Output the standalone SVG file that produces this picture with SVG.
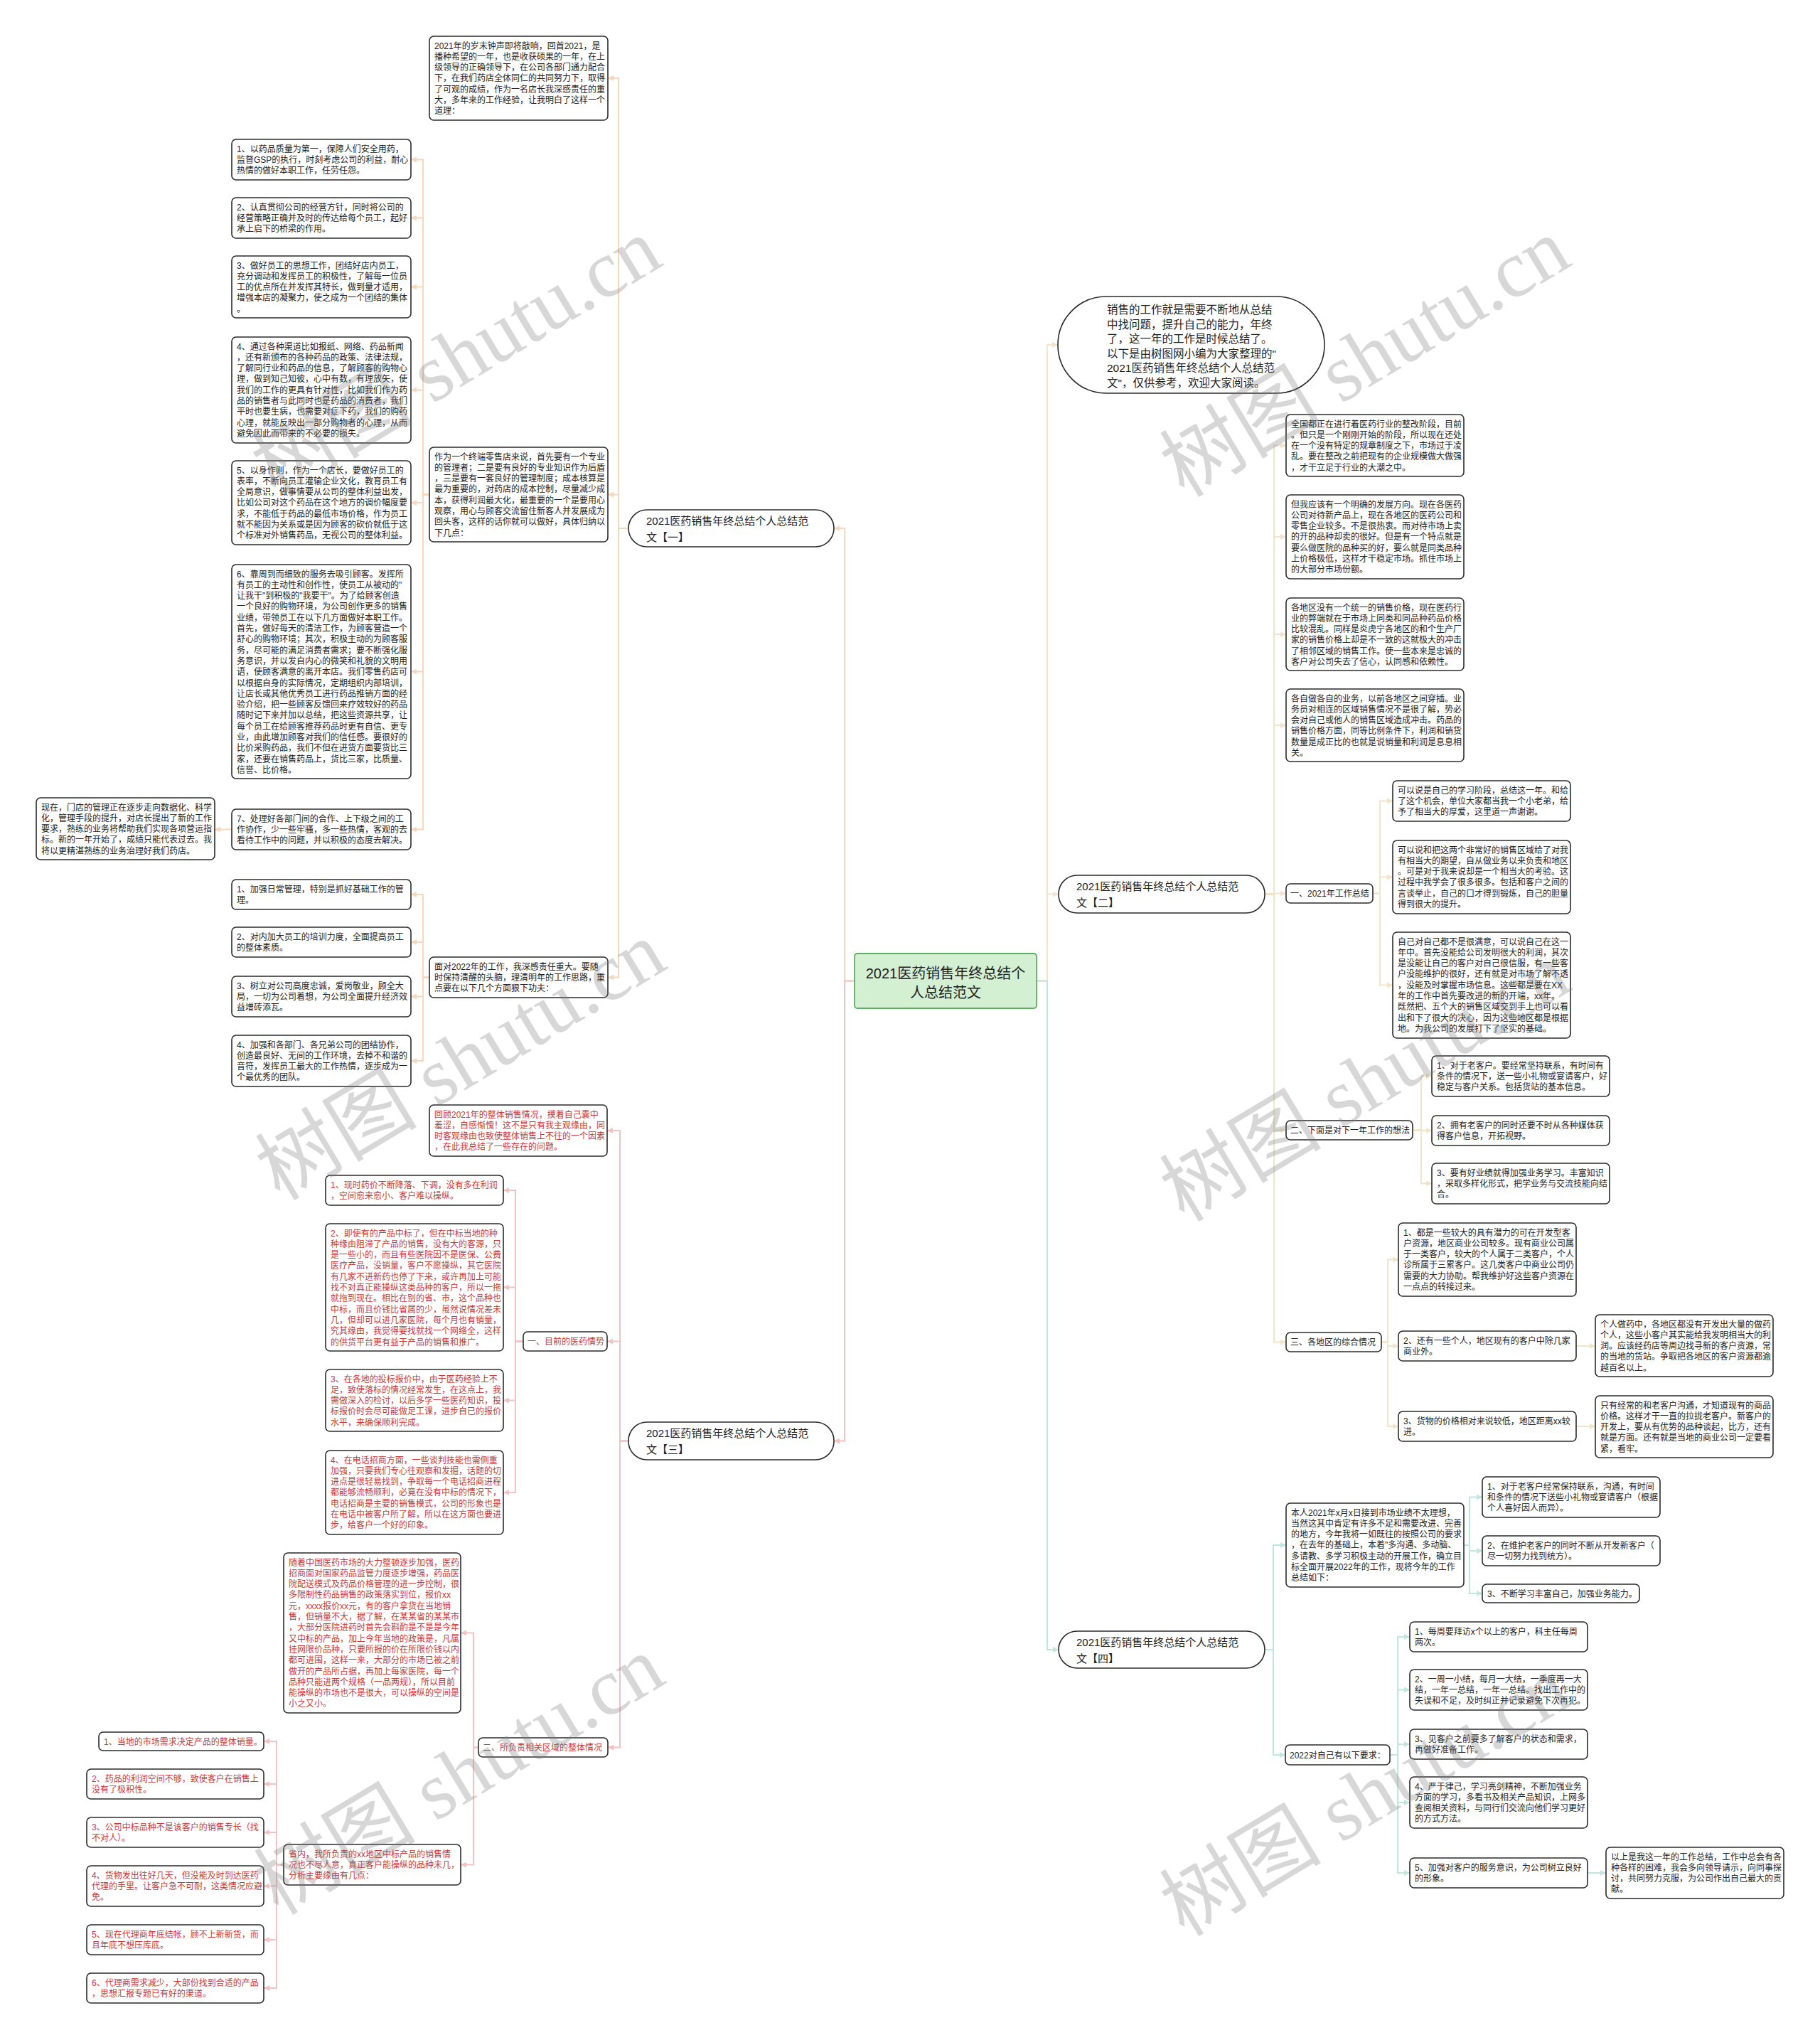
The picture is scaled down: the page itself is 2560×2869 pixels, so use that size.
<svg xmlns="http://www.w3.org/2000/svg" width="2560" height="2869" viewBox="0 0 2560 2869">
<defs>
<style>
.bg{fill:#ffffff}
.box{fill:#ffffff;stroke:#2b2b2b;stroke-width:1.6}
.t{font-family:"Liberation Sans","Noto Sans CJK SC",sans-serif;font-size:12px;fill:#222222}
.r{fill:#c8393b}
.bt{font-family:"Liberation Sans","Noto Sans CJK SC",sans-serif;font-size:15px;fill:#222222}
.ot{font-family:"Liberation Sans","Noto Sans CJK SC",sans-serif;font-size:15.5px;fill:#222222}
.root{fill:#d3f0d3;stroke:#5fae62;stroke-width:1.8}
.rt{font-family:"Liberation Sans","Noto Sans CJK SC",sans-serif;font-size:20px;fill:#222222}
.c{fill:none;stroke-width:2}
.co{stroke:#f7d8bc}
.cp{stroke:#f3c3c3}
.cb{stroke:#f1e4c9}
.cm{stroke:#bfe7dd}
.wm{font-family:"Liberation Serif","Noto Sans CJK SC",serif;font-size:114px;fill:#7a7a7a;fill-opacity:0.3}
</style>
<marker id="ao" markerUnits="userSpaceOnUse" markerWidth="9" markerHeight="8" refX="8" refY="4" orient="auto"><path d="M0,0 L8,4 L0,8 z" fill="#f7d8bc"/></marker>
<marker id="ap" markerUnits="userSpaceOnUse" markerWidth="9" markerHeight="8" refX="8" refY="4" orient="auto"><path d="M0,0 L8,4 L0,8 z" fill="#f3c3c3"/></marker>
<marker id="ab" markerUnits="userSpaceOnUse" markerWidth="9" markerHeight="8" refX="8" refY="4" orient="auto"><path d="M0,0 L8,4 L0,8 z" fill="#f1e4c9"/></marker>
<marker id="am" markerUnits="userSpaceOnUse" markerWidth="9" markerHeight="8" refX="8" refY="4" orient="auto"><path d="M0,0 L8,4 L0,8 z" fill="#bfe7dd"/></marker>
</defs>
<rect class="bg" x="0" y="0" width="2560" height="2869"/>

<g id="connectors">
<g class="c co">
<path d="M1202 1379.5 H1188 V743 H1173" marker-end="url(#ao)"/>
<path d="M884 743 H870 V110 H855" marker-end="url(#ao)"/>
<path d="M884 743 H870 V695.5 H855" marker-end="url(#ao)"/>
<path d="M884 743 H870 V1374.5 H855" marker-end="url(#ao)"/>
<path d="M604 695.5 H595 V224.5 H578" marker-end="url(#ao)"/>
<path d="M604 695.5 H595 V306.5 H578" marker-end="url(#ao)"/>
<path d="M604 695.5 H595 V403.5 H578" marker-end="url(#ao)"/>
<path d="M604 695.5 H595 V548.5 H578" marker-end="url(#ao)"/>
<path d="M604 695.5 H595 V707 H578" marker-end="url(#ao)"/>
<path d="M604 695.5 H595 V944.5 H578" marker-end="url(#ao)"/>
<path d="M604 695.5 H595 V1166.5 H578" marker-end="url(#ao)"/>
<path d="M326 1166.5 H302" marker-end="url(#ao)"/>
<path d="M604 1374.5 H595 V1258 H578" marker-end="url(#ao)"/>
<path d="M604 1374.5 H595 V1325 H578" marker-end="url(#ao)"/>
<path d="M604 1374.5 H595 V1401.5 H578" marker-end="url(#ao)"/>
<path d="M604 1374.5 H595 V1492 H578" marker-end="url(#ao)"/>
</g>
<g class="c cp">
<path d="M1202 1379.5 H1188 V2026.5 H1173" marker-end="url(#ap)"/>
<path d="M884 2026.5 H872 V1590 H854" marker-end="url(#ap)"/>
<path d="M884 2026.5 H872 V1886.5 H854" marker-end="url(#ap)"/>
<path d="M884 2026.5 H872 V2457.5 H855" marker-end="url(#ap)"/>
<path d="M736 1886.5 H725 V1674 H708" marker-end="url(#ap)"/>
<path d="M736 1886.5 H725 V1810.5 H708" marker-end="url(#ap)"/>
<path d="M736 1886.5 H725 V1969.5 H708" marker-end="url(#ap)"/>
<path d="M736 1886.5 H725 V2099 H708" marker-end="url(#ap)"/>
<path d="M673 2457.5 H666 V2296.5 H648" marker-end="url(#ap)"/>
<path d="M673 2457.5 H666 V2622.5 H648" marker-end="url(#ap)"/>
<path d="M399 2622.5 H389 V2449 H371" marker-end="url(#ap)"/>
<path d="M399 2622.5 H389 V2509 H371" marker-end="url(#ap)"/>
<path d="M399 2622.5 H389 V2577 H371" marker-end="url(#ap)"/>
<path d="M399 2622.5 H389 V2652.5 H371" marker-end="url(#ap)"/>
<path d="M399 2622.5 H389 V2728 H371" marker-end="url(#ap)"/>
<path d="M399 2622.5 H389 V2796 H371" marker-end="url(#ap)"/>
</g>
<g class="c cb">
<path d="M1458 1379.5 H1473 V485 H1488" marker-end="url(#ab)"/>
<path d="M1458 1379.5 H1473 V1257.5 H1489" marker-end="url(#ab)"/>
<path d="M1779 1257.5 H1792 V626.5 H1809" marker-end="url(#ab)"/>
<path d="M1779 1257.5 H1792 V755 H1809" marker-end="url(#ab)"/>
<path d="M1779 1257.5 H1792 V892 H1809" marker-end="url(#ab)"/>
<path d="M1779 1257.5 H1792 V1020 H1809" marker-end="url(#ab)"/>
<path d="M1779 1257.5 H1792 V1256.5 H1809" marker-end="url(#ab)"/>
<path d="M1779 1257.5 H1792 V1589.5 H1809" marker-end="url(#ab)"/>
<path d="M1779 1257.5 H1792 V1887.5 H1809" marker-end="url(#ab)"/>
<path d="M1931 1256.5 H1941 V1126.5 H1959" marker-end="url(#ab)"/>
<path d="M1931 1256.5 H1941 V1233.5 H1959" marker-end="url(#ab)"/>
<path d="M1931 1256.5 H1941 V1385.5 H1959" marker-end="url(#ab)"/>
<path d="M1987 1589.5 H1999 V1513.5 H2014" marker-end="url(#ab)"/>
<path d="M1987 1589.5 H1999 V1590 H2014" marker-end="url(#ab)"/>
<path d="M1987 1589.5 H1999 V1664.5 H2014" marker-end="url(#ab)"/>
<path d="M1943 1887.5 H1952 V1771.5 H1967" marker-end="url(#ab)"/>
<path d="M1943 1887.5 H1952 V1893 H1967" marker-end="url(#ab)"/>
<path d="M1943 1887.5 H1952 V2006 H1967" marker-end="url(#ab)"/>
<path d="M2217 1893 H2244" marker-end="url(#ab)"/>
<path d="M2217 2006 H2244" marker-end="url(#ab)"/>
</g>
<g class="c cm">
<path d="M1458 1379.5 H1473 V2320 H1489" marker-end="url(#am)"/>
<path d="M1779 2320 H1791 V2173 H1809" marker-end="url(#am)"/>
<path d="M1779 2320 H1791 V2468 H1808" marker-end="url(#am)"/>
<path d="M2059 2173 H2067 V2105.5 H2085" marker-end="url(#am)"/>
<path d="M2059 2173 H2067 V2181 H2085" marker-end="url(#am)"/>
<path d="M2059 2173 H2067 V2241 H2085" marker-end="url(#am)"/>
<path d="M1955 2468 H1966 V2302 H1983" marker-end="url(#am)"/>
<path d="M1955 2468 H1966 V2376.5 H1983" marker-end="url(#am)"/>
<path d="M1955 2468 H1966 V2453 H1983" marker-end="url(#am)"/>
<path d="M1955 2468 H1966 V2535 H1983" marker-end="url(#am)"/>
<path d="M1955 2468 H1966 V2634 H1983" marker-end="url(#am)"/>
<path d="M2233 2634 H2259" marker-end="url(#am)"/>
</g>
</g>

<g id="root">
<rect class="root" x="1202" y="1341" width="256" height="77" rx="4"/>
<text class="rt" text-anchor="middle" x="1330" y="1376"><tspan x="1330">2021医药销售年终总结个</tspan><tspan x="1330" dy="27">人总结范文</tspan></text>
</g>

<g id="b1"><rect class="box" x="884" y="717" width="289" height="52" rx="26"/><text class="bt" x="909" y="737.5"><tspan x="909">2021医药销售年终总结个人总结范</tspan><tspan x="909" dy="23">文【一】</tspan></text></g>
<g id="b3"><rect class="box" x="884" y="2000" width="289" height="53" rx="26"/><text class="bt" x="909" y="2021"><tspan x="909">2021医药销售年终总结个人总结范</tspan><tspan x="909" dy="23">文【三】</tspan></text></g>
<g id="b2"><rect class="box" x="1489" y="1231" width="290" height="53" rx="26"/><text class="bt" x="1514" y="1252"><tspan x="1514">2021医药销售年终总结个人总结范</tspan><tspan x="1514" dy="23">文【二】</tspan></text></g>
<g id="b4"><rect class="box" x="1489" y="2294" width="290" height="52" rx="26"/><text class="bt" x="1514" y="2314.5"><tspan x="1514">2021医药销售年终总结个人总结范</tspan><tspan x="1514" dy="23">文【四】</tspan></text></g>

<g id="intro-oval"><rect class="box" x="1488" y="417" width="375" height="136" rx="68"/><text class="ot" x="1557" y="441"><tspan x="1557">销售的工作就是需要不断地从总结</tspan><tspan x="1557" dy="20.6">中找问题，提升自己的能力，年终</tspan><tspan x="1557" dy="20.6">了，这一年的工作是时候总结了。</tspan><tspan x="1557" dy="20.6">以下是由树图网小编为大家整理的"</tspan><tspan x="1557" dy="20.6">2021医药销售年终总结个人总结范</tspan><tspan x="1557" dy="20.6">文"，仅供参考，欢迎大家阅读。</tspan></text></g>

<!-- Branch 1 -->
<g id="n1-intro"><rect class="box" x="604" y="51" width="251" height="118" rx="6"/><text class="t" x="611" y="68.5"><tspan x="611">2021年的岁末钟声即将敲响，回首2021，是</tspan><tspan x="611" dy="15.3">播种希望的一年，也是收获硕果的一年，在上</tspan><tspan x="611" dy="15.3">级领导的正确领导下，在公司各部门通力配合</tspan><tspan x="611" dy="15.3">下，在我们药店全体同仁的共同努力下，取得</tspan><tspan x="611" dy="15.3">了可观的成绩，作为一名店长我深感责任的重</tspan><tspan x="611" dy="15.3">大，多年来的工作经验，让我明白了这样一个</tspan><tspan x="611" dy="15.3">道理：</tspan></text></g>

<g id="n1-mid"><rect class="box" x="604" y="629" width="251" height="133" rx="6"/><text class="t" x="611" y="646.5"><tspan x="611">作为一个终端零售店来说，首先要有一个专业</tspan><tspan x="611" dy="15.3">的管理者；二是要有良好的专业知识作为后盾</tspan><tspan x="611" dy="15.3">，三是要有一套良好的管理制度；成本核算是</tspan><tspan x="611" dy="15.3">最为重要的，对药店的成本控制，尽量减少成</tspan><tspan x="611" dy="15.3">本，获得利润最大化，最重要的一个是要用心</tspan><tspan x="611" dy="15.3">观察，用心与顾客交流留住新客人并发展成为</tspan><tspan x="611" dy="15.3">回头客，这样的话你就可以做好，具体归纳以</tspan><tspan x="611" dy="15.3">下几点：</tspan></text></g>

<g id="n1-i1"><rect class="box" x="326" y="196" width="252" height="57" rx="6"/><text class="t" x="333" y="213.5"><tspan x="333">1、以药品质量为第一，保障人们安全用药，</tspan><tspan x="333" dy="15.3">监督GSP的执行，时刻考虑公司的利益，耐心</tspan><tspan x="333" dy="15.3">热情的做好本职工作，任劳任怨。</tspan></text></g>
<g id="n1-i2"><rect class="box" x="326" y="278" width="252" height="57" rx="6"/><text class="t" x="333" y="295.5"><tspan x="333">2、认真贯彻公司的经营方针，同时将公司的</tspan><tspan x="333" dy="15.3">经营策略正确并及时的传达给每个员工，起好</tspan><tspan x="333" dy="15.3">承上启下的桥梁的作用。</tspan></text></g>
<g id="n1-i3"><rect class="box" x="326" y="360" width="252" height="87" rx="6"/><text class="t" x="333" y="377.5"><tspan x="333">3、做好员工的思想工作，团结好店内员工，</tspan><tspan x="333" dy="15.3">充分调动和发挥员工的积极性，了解每一位员</tspan><tspan x="333" dy="15.3">工的优点所在并发挥其特长，做到量才适用，</tspan><tspan x="333" dy="15.3">增强本店的凝聚力，使之成为一个团结的集体</tspan><tspan x="333" dy="15.3">。</tspan></text></g>
<g id="n1-i4"><rect class="box" x="326" y="474" width="252" height="149" rx="6"/><text class="t" x="333" y="491.5"><tspan x="333">4、通过各种渠道比如报纸、网络、药品新闻</tspan><tspan x="333" dy="15.3">，还有新颁布的各种药品的政策、法律法规，</tspan><tspan x="333" dy="15.3">了解同行业和药品的信息，了解顾客的购物心</tspan><tspan x="333" dy="15.3">理，做到知己知彼，心中有数，有理放矢，使</tspan><tspan x="333" dy="15.3">我们的工作的更具有针对性，比如我们作为药</tspan><tspan x="333" dy="15.3">品的销售者与此同时也是药品的消费者，我们</tspan><tspan x="333" dy="15.3">平时也要生病，也需要对症下药，我们的购药</tspan><tspan x="333" dy="15.3">心理，就能反映出一部分购物者的心理，从而</tspan><tspan x="333" dy="15.3">避免因此而带来的不必要的损失。</tspan></text></g>
<g id="n1-i5"><rect class="box" x="326" y="648" width="252" height="118" rx="6"/><text class="t" x="333" y="665.5"><tspan x="333">5、以身作则，作为一个店长，要做好员工的</tspan><tspan x="333" dy="15.3">表率，不断向员工灌输企业文化，教育员工有</tspan><tspan x="333" dy="15.3">全局意识，做事情要从公司的整体利益出发，</tspan><tspan x="333" dy="15.3">比如公司对这个药品在这个地方的调价幅度要</tspan><tspan x="333" dy="15.3">求，不能低于药品的最低市场价格，作为员工</tspan><tspan x="333" dy="15.3">就不能因为关系或是因为顾客的砍价就低于这</tspan><tspan x="333" dy="15.3">个标准对外销售药品，无视公司的整体利益。</tspan></text></g>
<g id="n1-i6"><rect class="box" x="326" y="794" width="252" height="301" rx="6"/><text class="t" x="333" y="811.5"><tspan x="333">6、靠周到而细致的服务去吸引顾客。发挥所</tspan><tspan x="333" dy="15.3">有员工的主动性和创作性，使员工从被动的"</tspan><tspan x="333" dy="15.3">让我干"到积极的"我要干"。为了给顾客创造</tspan><tspan x="333" dy="15.3">一个良好的购物环境，为公司创作更多的销售</tspan><tspan x="333" dy="15.3">业绩，带领员工在以下几方面做好本职工作。</tspan><tspan x="333" dy="15.3">首先，做好每天的清洁工作，为顾客营造一个</tspan><tspan x="333" dy="15.3">舒心的购物环境；其次，积极主动的为顾客服</tspan><tspan x="333" dy="15.3">务，尽可能的满足消费者需求；要不断强化服</tspan><tspan x="333" dy="15.3">务意识，并以发自内心的微笑和礼貌的文明用</tspan><tspan x="333" dy="15.3">语，使顾客满意的离开本店。我们零售药店可</tspan><tspan x="333" dy="15.3">以根据自身的实际情况，定期组织内部培训，</tspan><tspan x="333" dy="15.3">让店长或其他优秀员工进行药品推销方面的经</tspan><tspan x="333" dy="15.3">验介绍，把一些顾客反馈回来疗效较好的药品</tspan><tspan x="333" dy="15.3">随时记下来并加以总结，把这些资源共享，让</tspan><tspan x="333" dy="15.3">每个员工在给顾客推荐药品时更有自信、更专</tspan><tspan x="333" dy="15.3">业，由此增加顾客对我们的信任感。要很好的</tspan><tspan x="333" dy="15.3">比价采购药品，我们不但在进货方面要货比三</tspan><tspan x="333" dy="15.3">家，还要在销售药品上，货比三家，比质量、</tspan><tspan x="333" dy="15.3">信誉、比价格。</tspan></text></g>
<g id="n1-i7"><rect class="box" x="326" y="1138" width="252" height="57" rx="6"/><text class="t" x="333" y="1155.5"><tspan x="333">7、处理好各部门间的合作、上下级之间的工</tspan><tspan x="333" dy="15.3">作协作，少一些牢骚，多一些热情，客观的去</tspan><tspan x="333" dy="15.3">看待工作中的问题，并以积极的态度去解决。</tspan></text></g>
<g id="n1-i7c"><rect class="box" x="51" y="1122" width="251" height="87" rx="6"/><text class="t" x="58" y="1139.5"><tspan x="58">现在，门店的管理正在逐步走向数据化、科学</tspan><tspan x="58" dy="15.3">化，管理手段的提升，对店长提出了新的工作</tspan><tspan x="58" dy="15.3">要求，熟练的业务将帮助我们实现各项营运指</tspan><tspan x="58" dy="15.3">标。新的一年开始了，成绩只能代表过去。我</tspan><tspan x="58" dy="15.3">将以更精湛熟练的业务治理好我们药店。</tspan></text></g>

<g id="n1-face"><rect class="box" x="604" y="1346" width="251" height="57" rx="6"/><text class="t" x="611" y="1363.5"><tspan x="611">面对2022年的工作，我深感责任重大。要随</tspan><tspan x="611" dy="15.3">时保持清醒的头脑，理清明年的工作思路，重</tspan><tspan x="611" dy="15.3">点要在以下几个方面狠下功夫：</tspan></text></g>
<g id="n1-f1"><rect class="box" x="326" y="1237" width="252" height="42" rx="6"/><text class="t" x="333" y="1254.5"><tspan x="333">1、加强日常管理，特别是抓好基础工作的管</tspan><tspan x="333" dy="15.3">理。</tspan></text></g>
<g id="n1-f2"><rect class="box" x="326" y="1304" width="252" height="42" rx="6"/><text class="t" x="333" y="1321.5"><tspan x="333">2、对内加大员工的培训力度，全面提高员工</tspan><tspan x="333" dy="15.3">的整体素质。</tspan></text></g>
<g id="n1-f3"><rect class="box" x="326" y="1373" width="252" height="57" rx="6"/><text class="t" x="333" y="1390.5"><tspan x="333">3、树立对公司高度忠诚，爱岗敬业，顾全大</tspan><tspan x="333" dy="15.3">局，一切为公司着想，为公司全面提升经济效</tspan><tspan x="333" dy="15.3">益增砖添瓦。</tspan></text></g>
<g id="n1-f4"><rect class="box" x="326" y="1456" width="252" height="72" rx="6"/><text class="t" x="333" y="1473.5"><tspan x="333">4、加强和各部门、各兄弟公司的团结协作，</tspan><tspan x="333" dy="15.3">创造最良好、无间的工作环境，去掉不和谐的</tspan><tspan x="333" dy="15.3">音符，发挥员工最大的工作热情，逐步成为一</tspan><tspan x="333" dy="15.3">个最优秀的团队。</tspan></text></g>

<!-- Branch 3 -->
<g id="n3-review"><rect class="box" x="604" y="1554" width="250" height="72" rx="6"/><text class="t r" x="611" y="1571.5"><tspan x="611">回顾2021年的整体销售情况，摸着自己囊中</tspan><tspan x="611" dy="15.3">羞涩，自感惭愧！这不是只有我主观缘由，同</tspan><tspan x="611" dy="15.3">时客观缘由也致使整体销售上不往的一个因素</tspan><tspan x="611" dy="15.3">，在此我总结了一些存在的问题。</tspan></text></g>
<g id="n3-l1"><rect class="box" x="736" y="1873" width="118" height="27" rx="6"/><text class="t r" x="742" y="1891">一、目前的医药情势</text></g>
<g id="n3-r1"><rect class="box" x="458" y="1653" width="250" height="42" rx="6"/><text class="t r" x="465" y="1670.5"><tspan x="465">1、现时药价不断降落、下调，没有多在利润</tspan><tspan x="465" dy="15.3">，空间愈来愈小、客户难以操纵。</tspan></text></g>
<g id="n3-r2"><rect class="box" x="458" y="1721" width="250" height="179" rx="6"/><text class="t r" x="465" y="1738.5"><tspan x="465">2、即使有的产品中标了，但在中标当地的种</tspan><tspan x="465" dy="15.3">种缘由阻滞了产品的销售，没有大的客源，只</tspan><tspan x="465" dy="15.3">是一些小的，而且有些医院因不是医保、公费</tspan><tspan x="465" dy="15.3">医疗产品，没销量，客户不愿操纵，其它医院</tspan><tspan x="465" dy="15.3">有几家不进新药也停了下来，或许再加上可能</tspan><tspan x="465" dy="15.3">找不对真正能操纵这类品种的客户，所以一拖</tspan><tspan x="465" dy="15.3">就拖到现在。相比在别的省、市，这个品种也</tspan><tspan x="465" dy="15.3">中标，而且价钱比省属的少，虽然说情况差未</tspan><tspan x="465" dy="15.3">几，但却可以进几家医院，每个月也有销量，</tspan><tspan x="465" dy="15.3">究其缘由，我觉得要找就找一个网络全，这样</tspan><tspan x="465" dy="15.3">的供货平台更有益于产品的销售和推广。</tspan></text></g>
<g id="n3-r3"><rect class="box" x="458" y="1926" width="250" height="87" rx="6"/><text class="t r" x="465" y="1943.5"><tspan x="465">3、在各地的投标报价中，由于医药经验上不</tspan><tspan x="465" dy="15.3">足，致使落标的情况经常发生，在这点上，我</tspan><tspan x="465" dy="15.3">需做深入的检讨，以后多学一些医药知识，投</tspan><tspan x="465" dy="15.3">标报价时会尽可能做足工课，进步自已的报价</tspan><tspan x="465" dy="15.3">水平，来确保顺利完成。</tspan></text></g>
<g id="n3-r4"><rect class="box" x="458" y="2040" width="250" height="118" rx="6"/><text class="t r" x="465" y="2057.5"><tspan x="465">4、在电话招商方面，一些谈判技能也需侧重</tspan><tspan x="465" dy="15.3">加强，只要我们专心往观察和发掘，话题的切</tspan><tspan x="465" dy="15.3">进点是很轻易找到，争取每一个电话招商进程</tspan><tspan x="465" dy="15.3">都能够流畅顺利，必竟在没有中标的情况下，</tspan><tspan x="465" dy="15.3">电话招商是主要的销售模式，公司的形象也是</tspan><tspan x="465" dy="15.3">在电话中被客户所了解，所以在这方面也要进</tspan><tspan x="465" dy="15.3">步，给客户一个好的印象。</tspan></text></g>
<g id="n3-l2"><rect class="box" x="673" y="2444" width="182" height="27" rx="6"/><text class="t r" x="679" y="2462">二、所负责相关区域的整体情况</text></g>
<g id="n3-with"><rect class="box" x="399" y="2184" width="249" height="225" rx="6"/><text class="t r" x="406" y="2201.5"><tspan x="406">随着中国医药市场的大力整顿逐步加强，医药</tspan><tspan x="406" dy="15.3">招商面对国家药品监管力度逐步增强，药品医</tspan><tspan x="406" dy="15.3">院配送模式及药品价格管理的进一步控制，很</tspan><tspan x="406" dy="15.3">多限制性药品销售的政策落实到位，报价xx</tspan><tspan x="406" dy="15.3">元，xxxx报价xx元，有的客户拿货在当地销</tspan><tspan x="406" dy="15.3">售，但销量不大，据了解，在某某省的某某市</tspan><tspan x="406" dy="15.3">，大部分医院进药时首先会斟酌是不是是今年</tspan><tspan x="406" dy="15.3">又中标的产品，加上今年当地的政策是，凡属</tspan><tspan x="406" dy="15.3">挂网限价品种，只要所报的价在所限价钱以内</tspan><tspan x="406" dy="15.3">都可进围，这样一来，大部分的市场已被之前</tspan><tspan x="406" dy="15.3">做开的产品所占据，再加上每家医院，每一个</tspan><tspan x="406" dy="15.3">品种只能进两个规格（一品两规），所以目前</tspan><tspan x="406" dy="15.3">能操纵的市场也不是很大，可以操纵的空间是</tspan><tspan x="406" dy="15.3">小之又小。</tspan></text></g>
<g id="n3-prov"><rect class="box" x="399" y="2594" width="249" height="57" rx="6"/><text class="t r" x="406" y="2611.5"><tspan x="406">省内，我所负责的xx地区中标产品的销售情</tspan><tspan x="406" dy="15.3">况也不尽人意，真正客户能操纵的品种未几，</tspan><tspan x="406" dy="15.3">分析主要缘由有几点：</tspan></text></g>
<g id="n3-s1"><rect class="box" x="139" y="2436" width="232" height="26" rx="6"/><text class="t r" x="146" y="2453.5">1、当地的市场需求决定产品的整体销量。</text></g>
<g id="n3-s2"><rect class="box" x="122" y="2488" width="249" height="42" rx="6"/><text class="t r" x="129" y="2505.5"><tspan x="129">2、药品的利润空间不够，致使客户在销售上</tspan><tspan x="129" dy="15.3">没有了极积性。</tspan></text></g>
<g id="n3-s3"><rect class="box" x="122" y="2556" width="249" height="42" rx="6"/><text class="t r" x="129" y="2573.5"><tspan x="129">3、公司中标品种不是该客户的销售专长（找</tspan><tspan x="129" dy="15.3">不对人）。</tspan></text></g>
<g id="n3-s4"><rect class="box" x="122" y="2624" width="249" height="57" rx="6"/><text class="t r" x="129" y="2641.5"><tspan x="129">4、货物发出往好几天，但没能及时到达医药</tspan><tspan x="129" dy="15.3">代理的手里。让客户急不可耐，这类情况应避</tspan><tspan x="129" dy="15.3">免。</tspan></text></g>
<g id="n3-s5"><rect class="box" x="122" y="2707" width="249" height="42" rx="6"/><text class="t r" x="129" y="2724.5"><tspan x="129">5、现在代理商年底结帐，顾不上新新货，而</tspan><tspan x="129" dy="15.3">且年底不想压库底。</tspan></text></g>
<g id="n3-s6"><rect class="box" x="122" y="2775" width="249" height="42" rx="6"/><text class="t r" x="129" y="2792.5"><tspan x="129">6、代理商需求减少，大部份找到合适的产品</tspan><tspan x="129" dy="15.3">，思想汇报专题已有好的渠道。</tspan></text></g>

<!-- Branch 2 -->
<g id="n2-a"><rect class="box" x="1809" y="583" width="250" height="87" rx="6"/><text class="t" x="1816" y="600.5"><tspan x="1816">全国都正在进行着医药行业的整改阶段，目前</tspan><tspan x="1816" dy="15.3">。但只是一个刚刚开始的阶段，所以现在还处</tspan><tspan x="1816" dy="15.3">在一个没有特定的规章制度之下，市场过于凌</tspan><tspan x="1816" dy="15.3">乱。要在整改之前把现有的企业规模做大做强</tspan><tspan x="1816" dy="15.3">，才干立足于行业的大潮之中。</tspan></text></g>
<g id="n2-b"><rect class="box" x="1809" y="696" width="250" height="118" rx="6"/><text class="t" x="1816" y="713.5"><tspan x="1816">但我应该有一个明确的发展方向。现在各医药</tspan><tspan x="1816" dy="15.3">公司对待新产品上，现在各地区的医药公司和</tspan><tspan x="1816" dy="15.3">零售企业较多。不是很热衷。而对待市场上卖</tspan><tspan x="1816" dy="15.3">的开的品种却卖的很好。但是有一个特点就是</tspan><tspan x="1816" dy="15.3">要么做医院的品种买的好，要么就是同类品种</tspan><tspan x="1816" dy="15.3">上价格极低，这样才干稳定市场。抓住市场上</tspan><tspan x="1816" dy="15.3">的大部分市场份额。</tspan></text></g>
<g id="n2-c"><rect class="box" x="1809" y="841" width="250" height="102" rx="6"/><text class="t" x="1816" y="858.5"><tspan x="1816">各地区没有一个统一的销售价格，现在医药行</tspan><tspan x="1816" dy="15.3">业的弊端就在于市场上同类和同品种药品价格</tspan><tspan x="1816" dy="15.3">比较混乱。同样是炎虎宁各地区的和个生产厂</tspan><tspan x="1816" dy="15.3">家的销售价格上却是不一致的这就极大的冲击</tspan><tspan x="1816" dy="15.3">了相邻区域的销售工作。使一些本来是忠诚的</tspan><tspan x="1816" dy="15.3">客户对公司失去了信心，认同感和依赖性。</tspan></text></g>
<g id="n2-d"><rect class="box" x="1809" y="969" width="250" height="102" rx="6"/><text class="t" x="1816" y="986.5"><tspan x="1816">各自做各自的业务，以前各地区之间穿插。业</tspan><tspan x="1816" dy="15.3">务员对相连的区域销售情况不是很了解，势必</tspan><tspan x="1816" dy="15.3">会对自己或他人的销售区域造成冲击。药品的</tspan><tspan x="1816" dy="15.3">销售价格方面，同等比例条件下，利润和销货</tspan><tspan x="1816" dy="15.3">数量是成正比的也就是说销量和利润是息息相</tspan><tspan x="1816" dy="15.3">关。</tspan></text></g>
<g id="n2-l1"><rect class="box" x="1809" y="1243" width="122" height="27" rx="6"/><text class="t" x="1815" y="1261">一、2021年工作总结</text></g>
<g id="n2-l1a"><rect class="box" x="1959" y="1098" width="250" height="57" rx="6"/><text class="t" x="1966" y="1115.5"><tspan x="1966">可以说是自己的学习阶段，总结这一年。和给</tspan><tspan x="1966" dy="15.3">了这个机会，单位大家都当我一个小老弟，给</tspan><tspan x="1966" dy="15.3">予了相当大的厚爱，这里道一声谢谢。</tspan></text></g>
<g id="n2-l1b"><rect class="box" x="1959" y="1182" width="250" height="103" rx="6"/><text class="t" x="1966" y="1199.5"><tspan x="1966">可以说和把这两个非常好的销售区域给了对我</tspan><tspan x="1966" dy="15.3">有相当大的期望，自从做业务以来负责和地区</tspan><tspan x="1966" dy="15.3">。可是对于我来说却是一个相当大的考验。这</tspan><tspan x="1966" dy="15.3">过程中我学会了很多很多。包括和客户之间的</tspan><tspan x="1966" dy="15.3">言谈举止，自己的口才得到锻炼，自己的胆量</tspan><tspan x="1966" dy="15.3">得到很大的提升。</tspan></text></g>
<g id="n2-l1c"><rect class="box" x="1959" y="1311" width="250" height="149" rx="6"/><text class="t" x="1966" y="1328.5"><tspan x="1966">自己对自己都不是很满意，可以说自己在这一</tspan><tspan x="1966" dy="15.3">年中。首先没能给公司发明很大的利润，其次</tspan><tspan x="1966" dy="15.3">是没能让自己的客户对自己很信服，有一些客</tspan><tspan x="1966" dy="15.3">户没能维护的很好，还有就是对市场了解不透</tspan><tspan x="1966" dy="15.3">，没能及时掌握市场信息。这些都是要在XX</tspan><tspan x="1966" dy="15.3">年的工作中首先要改进的新的开端，xx年。</tspan><tspan x="1966" dy="15.3">既然把、五个大的销售区域交到手上也可以看</tspan><tspan x="1966" dy="15.3">出和下了很大的决心，因为这些地区都是根据</tspan><tspan x="1966" dy="15.3">地。为我公司的发展打下了坚实的基础。</tspan></text></g>
<g id="n2-l2"><rect class="box" x="1809" y="1576" width="178" height="27" rx="6"/><text class="t" x="1815" y="1594">二、下面是对下一年工作的想法</text></g>
<g id="n2-l2a"><rect class="box" x="2014" y="1485" width="250" height="57" rx="6"/><text class="t" x="2021" y="1502.5"><tspan x="2021">1、对于老客户。要经常坚持联系，有时间有</tspan><tspan x="2021" dy="15.3">条件的情况下，送一些小礼物或宴请客户，好</tspan><tspan x="2021" dy="15.3">稳定与客户关系。包括货站的基本信息。</tspan></text></g>
<g id="n2-l2b"><rect class="box" x="2014" y="1569" width="250" height="42" rx="6"/><text class="t" x="2021" y="1586.5"><tspan x="2021">2、拥有老客户的同时还要不时从各种媒体获</tspan><tspan x="2021" dy="15.3">得客户信息，开拓视野。</tspan></text></g>
<g id="n2-l2c"><rect class="box" x="2014" y="1636" width="250" height="57" rx="6"/><text class="t" x="2021" y="1653.5"><tspan x="2021">3、要有好业绩就得加强业务学习。丰富知识</tspan><tspan x="2021" dy="15.3">，采取多样化形式，把学业务与交流技能向结</tspan><tspan x="2021" dy="15.3">合。</tspan></text></g>
<g id="n2-l3"><rect class="box" x="1809" y="1874" width="134" height="27" rx="6"/><text class="t" x="1815" y="1892">三、各地区的综合情况</text></g>
<g id="n2-l3a"><rect class="box" x="1967" y="1720" width="250" height="103" rx="6"/><text class="t" x="1974" y="1737.5"><tspan x="1974">1、都是一些较大的具有潜力的可在开发型客</tspan><tspan x="1974" dy="15.3">户资源，地区商业公司较多。现有商业公司属</tspan><tspan x="1974" dy="15.3">于一类客户，较大的个人属于二类客户，个人</tspan><tspan x="1974" dy="15.3">诊所属于三累客户。这几类客户中商业公司仍</tspan><tspan x="1974" dy="15.3">需要的大力协助。帮我维护好这些客户资源在</tspan><tspan x="1974" dy="15.3">一点点的转接过来。</tspan></text></g>
<g id="n2-l3b"><rect class="box" x="1967" y="1872" width="250" height="42" rx="6"/><text class="t" x="1974" y="1889.5"><tspan x="1974">2、还有一些个人，地区现有的客户中除几家</tspan><tspan x="1974" dy="15.3">商业外。</tspan></text></g>
<g id="n2-l3c"><rect class="box" x="1967" y="1985" width="250" height="42" rx="6"/><text class="t" x="1974" y="2002.5"><tspan x="1974">3、货物的价格相对来说较低，地区距离xx较</tspan><tspan x="1974" dy="15.3">进。</tspan></text></g>
<g id="n2-l3bc"><rect class="box" x="2244" y="1849" width="250" height="87" rx="6"/><text class="t" x="2251" y="1866.5"><tspan x="2251">个人做药中，各地区都没有开发出大量的做药</tspan><tspan x="2251" dy="15.3">个人，这些小客户其实能给我发明相当大的利</tspan><tspan x="2251" dy="15.3">润。应该经药店等周边找寻新的客户资源，常</tspan><tspan x="2251" dy="15.3">的当地的货站。争取把各地区的客户资源都逾</tspan><tspan x="2251" dy="15.3">越百名以上。</tspan></text></g>
<g id="n2-l3cc"><rect class="box" x="2244" y="1963" width="250" height="87" rx="6"/><text class="t" x="2251" y="1980.5"><tspan x="2251">只有经常的和老客户沟通，才知道现有的商品</tspan><tspan x="2251" dy="15.3">价格。这样才干一直的拉拢老客户。新客户的</tspan><tspan x="2251" dy="15.3">开发上，要从有优势的品种谈起，比方，还有</tspan><tspan x="2251" dy="15.3">就是方面。还有就是当地的商业公司一定要看</tspan><tspan x="2251" dy="15.3">紧，看牢。</tspan></text></g>

<!-- Branch 4 -->
<g id="n4-me"><rect class="box" x="1809" y="2114" width="250" height="118" rx="6"/><text class="t" x="1816" y="2131.5"><tspan x="1816">本人2021年x月x日接到市场业绩不太理想，</tspan><tspan x="1816" dy="15.3">当然这其中肯定有许多不足和需要改进、完善</tspan><tspan x="1816" dy="15.3">的地方，今年我将一如既往的按照公司的要求</tspan><tspan x="1816" dy="15.3">，在去年的基础上，本着"多沟通、多动脑、</tspan><tspan x="1816" dy="15.3">多请教、多学习积极主动的开展工作，确立目</tspan><tspan x="1816" dy="15.3">标全面开展2022年的工作，现将今年的工作</tspan><tspan x="1816" dy="15.3">总结如下：</tspan></text></g>
<g id="n4-me1"><rect class="box" x="2085" y="2077" width="250" height="57" rx="6"/><text class="t" x="2092" y="2094.5"><tspan x="2092">1、对于老客户经常保持联系，沟通，有时间</tspan><tspan x="2092" dy="15.3">和条件的情况下送些小礼物或宴请客户（根据</tspan><tspan x="2092" dy="15.3">个人喜好因人而异）。</tspan></text></g>
<g id="n4-me2"><rect class="box" x="2085" y="2160" width="250" height="42" rx="6"/><text class="t" x="2092" y="2177.5"><tspan x="2092">2、在维护老客户的同时不断从开发新客户（</tspan><tspan x="2092" dy="15.3">尽一切努力找到统方）。</tspan></text></g>
<g id="n4-me3"><rect class="box" x="2085" y="2228" width="221" height="26" rx="6"/><text class="t" x="2092" y="2245.5">3、不断学习丰富自己，加强业务能力。</text></g>
<g id="n4-req"><rect class="box" x="1808" y="2454" width="147" height="28" rx="6"/><text class="t" x="1814" y="2472.5">2022对自己有以下要求：</text></g>
<g id="n4-q1"><rect class="box" x="1983" y="2281" width="250" height="42" rx="6"/><text class="t" x="1990" y="2298.5"><tspan x="1990">1、每周要拜访x个以上的客户，科主任每周</tspan><tspan x="1990" dy="15.3">两次。</tspan></text></g>
<g id="n4-q2"><rect class="box" x="1983" y="2348" width="250" height="57" rx="6"/><text class="t" x="1990" y="2365.5"><tspan x="1990">2、一周一小结，每月一大结，一季度再一大</tspan><tspan x="1990" dy="15.3">结，一年一总结，一年一总结。找出工作中的</tspan><tspan x="1990" dy="15.3">失误和不足，及时纠正并记录避免下次再犯。</tspan></text></g>
<g id="n4-q3"><rect class="box" x="1983" y="2432" width="250" height="42" rx="6"/><text class="t" x="1990" y="2449.5"><tspan x="1990">3、见客户之前要多了解客户的状态和需求，</tspan><tspan x="1990" dy="15.3">再做好准备工作。</tspan></text></g>
<g id="n4-q4"><rect class="box" x="1983" y="2499" width="250" height="72" rx="6"/><text class="t" x="1990" y="2516.5"><tspan x="1990">4、严于律己，学习亮剑精神，不断加强业务</tspan><tspan x="1990" dy="15.3">方面的学习，多看书及相关产品知识，上网多</tspan><tspan x="1990" dy="15.3">查阅相关资料，与同行们交流向他们学习更好</tspan><tspan x="1990" dy="15.3">的方式方法。</tspan></text></g>
<g id="n4-q5"><rect class="box" x="1983" y="2613" width="250" height="42" rx="6"/><text class="t" x="1990" y="2630.5"><tspan x="1990">5、加强对客户的服务意识，为公司树立良好</tspan><tspan x="1990" dy="15.3">的形象。</tspan></text></g>
<g id="n4-q5c"><rect class="box" x="2259" y="2598" width="250" height="72" rx="6"/><text class="t" x="2266" y="2615.5"><tspan x="2266">以上是我这一年的工作总结，工作中总会有各</tspan><tspan x="2266" dy="15.3">种各样的困难，我会多向领导请示，向同事探</tspan><tspan x="2266" dy="15.3">讨，共同努力克服，为公司作出自己最大的贡</tspan><tspan x="2266" dy="15.3">献。</tspan></text></g>

<g id="watermarks">
<text class="wm" text-anchor="middle" transform="translate(662 536) rotate(-31)">树图 shutu.cn</text>
<text class="wm" text-anchor="middle" transform="translate(1940 536) rotate(-31)">树图 shutu.cn</text>
<text class="wm" text-anchor="middle" transform="translate(668 1525) rotate(-31)">树图 shutu.cn</text>
<text class="wm" text-anchor="middle" transform="translate(1940 1555) rotate(-31)">树图 shutu.cn</text>
<text class="wm" text-anchor="middle" transform="translate(666 2530) rotate(-31)">树图 shutu.cn</text>
<text class="wm" text-anchor="middle" transform="translate(1940 2560) rotate(-31)">树图 shutu.cn</text>
</g>
</svg>
